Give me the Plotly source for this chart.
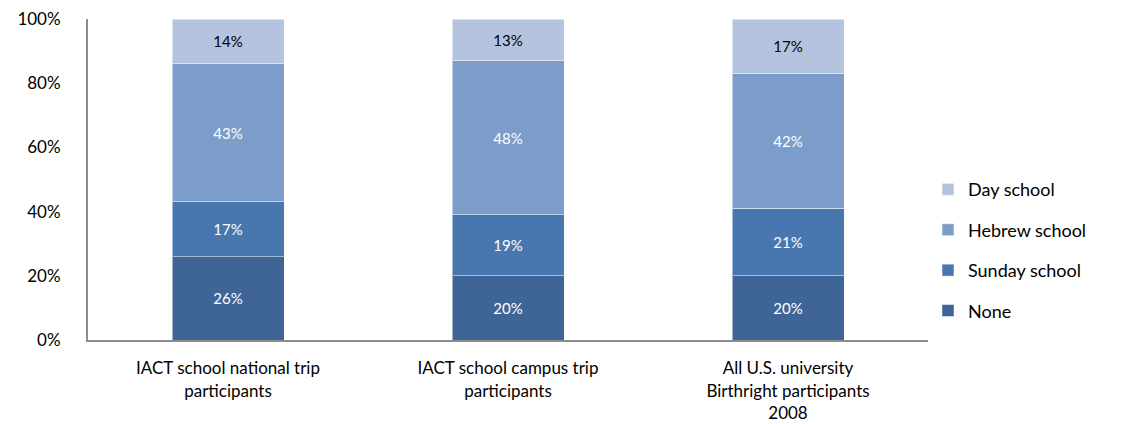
import plotly.graph_objects as go

categories = ["IACT school national trip<br>participants",
              "IACT school campus trip<br>participants",
              "All U.S. university<br>Birthright participants<br>2008"]
series_names = ["None", "Sunday school", "Hebrew school", "Day school"]
values = {
    "None": [26, 20, 20],
    "Sunday school": [17, 19, 21],
    "Hebrew school": [43, 48, 42],
    "Day school": [14, 13, 17],
}
colors = {
    "None": "#3E6595",
    "Sunday school": "#4877B0",
    "Hebrew school": "#7C9CC9",
    "Day school": "#B4C3DE",
}
text_colors = {"None": "white", "Sunday school": "white", "Hebrew school": "white", "Day school": "black"}
legend_rank = {"Day school": 1, "Hebrew school": 2, "Sunday school": 3, "None": 4}
y_ticks = [0, 20, 40, 60, 80, 100]
y_tick_labels = ["0%", "20%", "40%", "60%", "80%", "100%"]

FONT = "Lato, Open Sans, sans-serif"

fig = go.Figure()
for name in series_names:
    fig.add_trace(go.Bar(
        x=categories, y=values[name], name=name,
        marker=dict(color=colors[name], line=dict(color="rgba(255,255,255,0.5)", width=1)),
        text=[f"{v}%" for v in values[name]], textposition="inside",
        insidetextanchor="middle",
        textfont=dict(color=text_colors[name], size=15, family=FONT),
        legendgroup=name, legendrank=legend_rank[name],
        width=0.4,
    ))

fig.update_layout(
    barmode="stack",
    width=1128, height=424,
    margin=dict(l=88, r=200, t=19, b=84),
    plot_bgcolor="white", paper_bgcolor="white",
    font=dict(family=FONT, size=17, color="black"),
    showlegend=True,
    legend=dict(x=1.0, y=0.28, xanchor="left", yanchor="middle",
                traceorder="grouped", tracegroupgap=14,
                font=dict(size=18, family=FONT)),
    uniformtext=dict(minsize=10, mode="show"),
)
fig.update_yaxes(range=[0, 100], tickvals=y_ticks, ticktext=y_tick_labels,
                 showgrid=False, showline=True, linecolor="#8C8C8C", linewidth=2,
                 ticks="", tickfont=dict(size=17), ticklabelstandoff=22, zeroline=False,
                 automargin=False)
fig.update_xaxes(showline=True, linecolor="#8C8C8C", linewidth=2, ticks="",
                 tickfont=dict(size=17), ticklabelstandoff=12, automargin=False)

fig.write_html("out.html")
